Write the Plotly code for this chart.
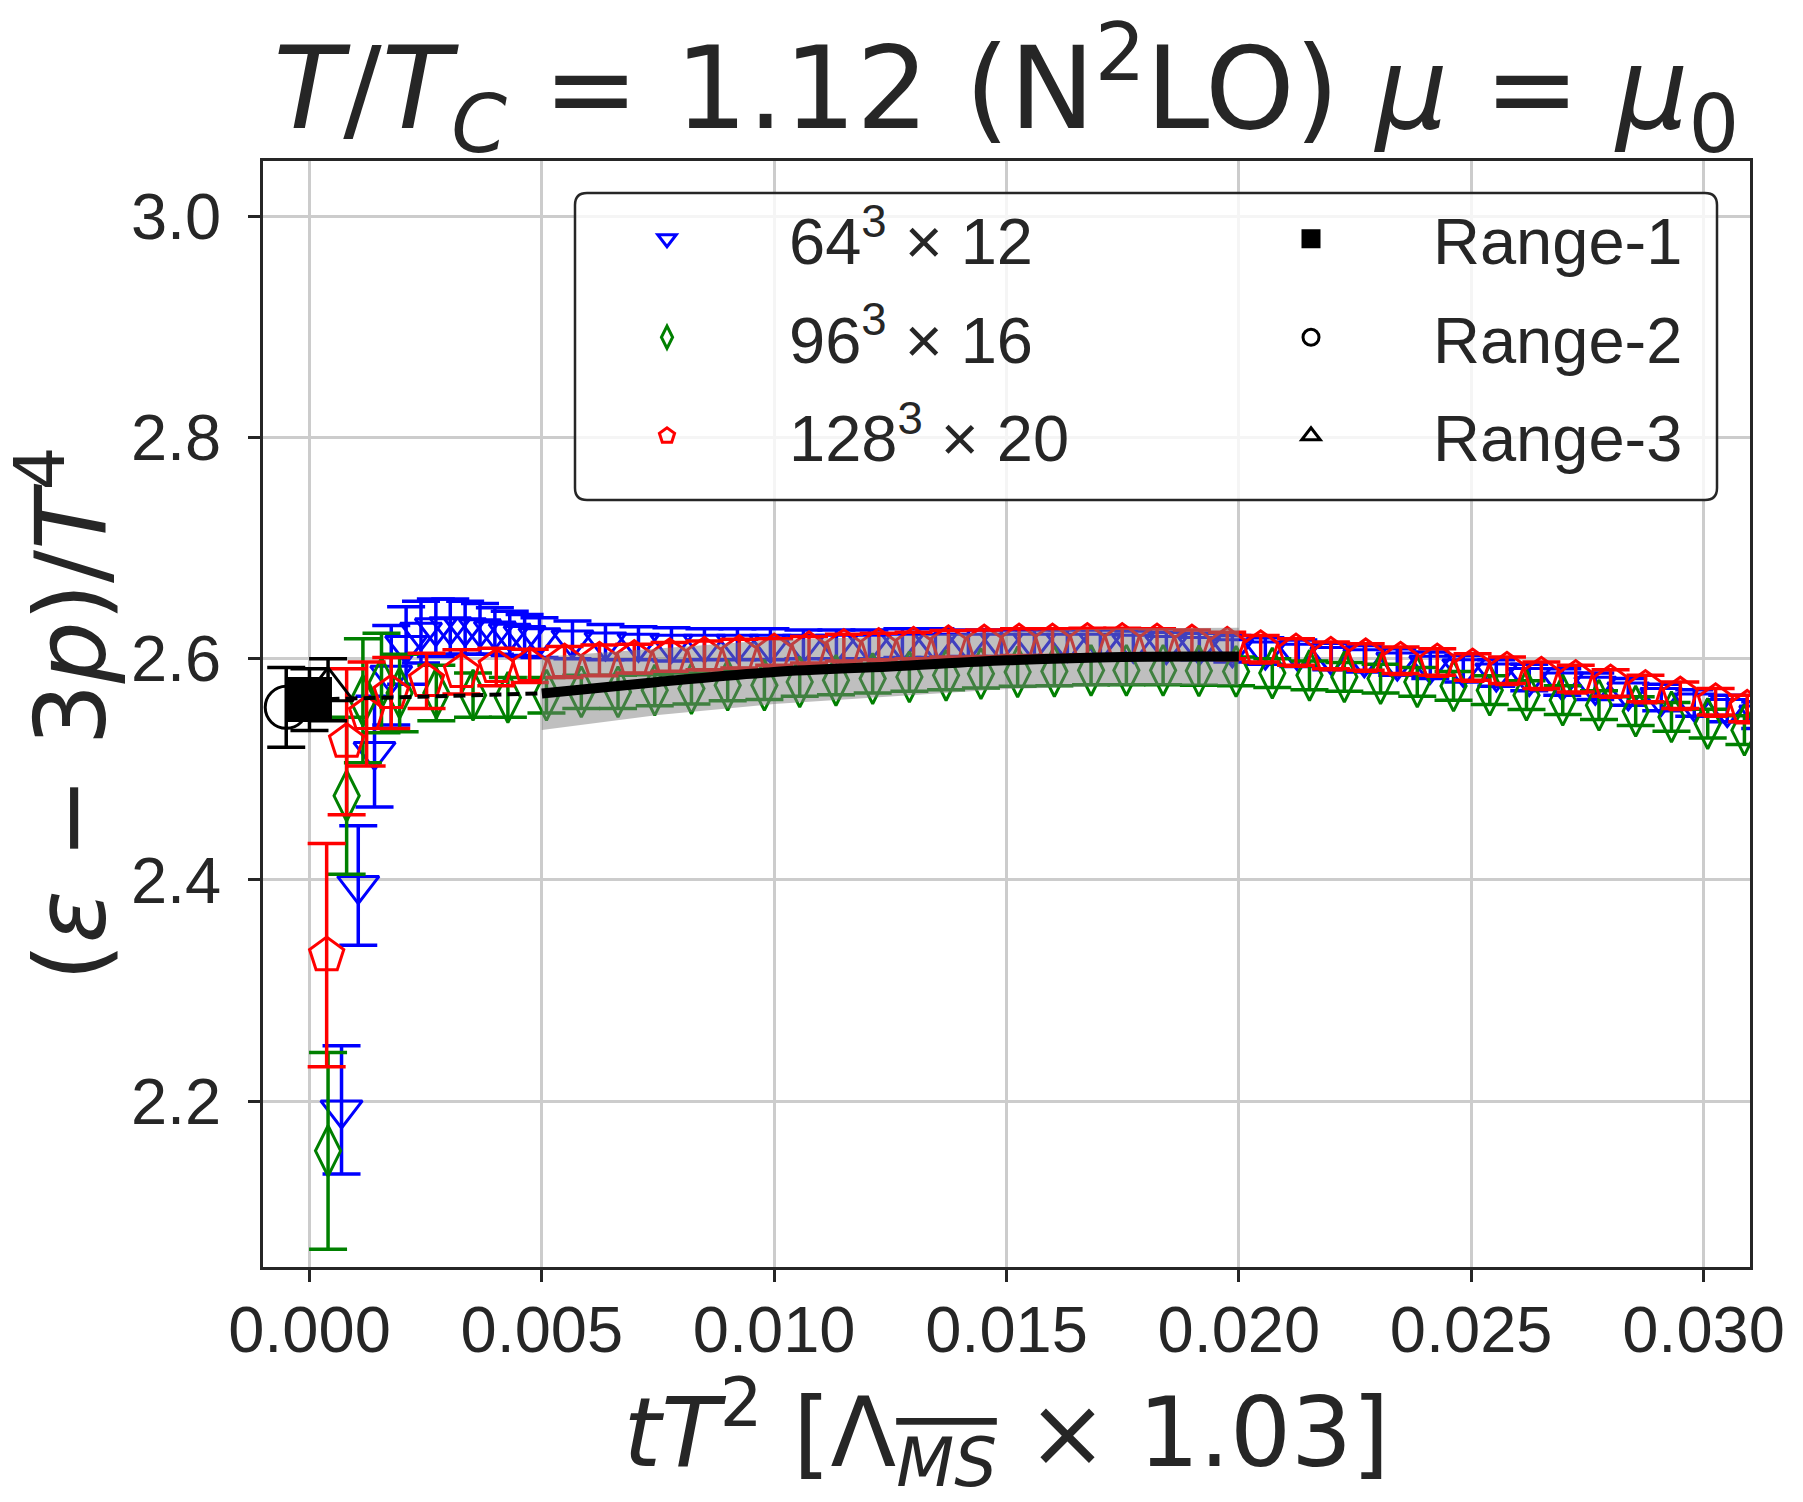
import plotly.graph_objects as go

# ---------------- data ----------------
# 64^3 x 12 (blue)
blue_x = [0.00069, 0.00105, 0.00140, 0.00176, 0.00208, 0.00240, 0.00272, 0.00303, 0.00335, 0.00367,
          0.00399, 0.00431, 0.00463, 0.00495, 0.00566, 0.00637, 0.00708, 0.00779, 0.00850, 0.00921,
          0.00992, 0.01063, 0.01134, 0.01205, 0.01276, 0.01347, 0.01418, 0.01489, 0.01560, 0.01631,
          0.01702, 0.01773, 0.01844, 0.01915, 0.01986, 0.02057, 0.02128, 0.02199, 0.02270, 0.02341,
          0.02412, 0.02483, 0.02554, 0.02625, 0.02696, 0.02767, 0.02838, 0.02909, 0.02980, 0.03051,
          0.03122]
blue_y = [2.192, 2.395, 2.516, 2.585, 2.612, 2.624, 2.628, 2.629, 2.628, 2.627,
          2.625, 2.623, 2.621, 2.619, 2.617, 2.615, 2.614, 2.613, 2.613, 2.613,
          2.613, 2.613, 2.613, 2.613, 2.614, 2.614, 2.614, 2.614, 2.614, 2.614,
          2.614, 2.613, 2.612, 2.611, 2.609, 2.607, 2.605, 2.602, 2.600, 2.597,
          2.594, 2.591, 2.587, 2.583, 2.579, 2.575, 2.570, 2.565, 2.560, 2.555,
          2.549]
blue_err = [0.058, 0.054, 0.050, 0.045, 0.035, 0.028, 0.026, 0.025, 0.024, 0.023,
            0.021, 0.020, 0.019, 0.018, 0.017, 0.016, 0.015, 0.015, 0.014, 0.014,
            0.014, 0.013, 0.013, 0.013, 0.013, 0.013, 0.012, 0.012, 0.012, 0.012,
            0.012, 0.012, 0.012, 0.012, 0.012, 0.012, 0.012, 0.012, 0.012, 0.012,
            0.012, 0.012, 0.012, 0.012, 0.012, 0.012, 0.012, 0.012, 0.012, 0.012,
            0.012]

# 96^3 x 16 (green)
green_x = [0.00040, 0.00080, 0.00115, 0.00155, 0.00194, 0.00273, 0.00352, 0.00427, 0.00510, 0.00585,
           0.00664, 0.00743, 0.00822, 0.00900, 0.00979, 0.01055, 0.01133, 0.01212, 0.01291, 0.01370,
           0.01445, 0.01524, 0.01603, 0.01682, 0.01758, 0.01837, 0.01914, 0.01994, 0.02072, 0.02152,
           0.02227, 0.02305, 0.02384, 0.02462, 0.02540, 0.02619, 0.02697, 0.02775, 0.02854, 0.02931,
           0.03009, 0.03088]
green_y = [2.155, 2.476, 2.562, 2.578, 2.569, 2.569, 2.567, 2.565, 2.567, 2.570,
           2.570, 2.5715, 2.573, 2.576, 2.576, 2.579, 2.5805, 2.582, 2.5835, 2.585,
           2.5865, 2.588, 2.5886, 2.5895, 2.5895, 2.5895, 2.589, 2.5885, 2.587, 2.585,
           2.5835, 2.582, 2.579, 2.5754, 2.5715, 2.567, 2.5625, 2.558, 2.5525, 2.5474,
           2.5414, 2.5354]
green_err = [0.089, 0.071, 0.056, 0.045, 0.035, 0.025, 0.020, 0.018, 0.016, 0.015,
             0.015, 0.014, 0.014, 0.014, 0.013, 0.013, 0.013, 0.013, 0.013, 0.013,
             0.013, 0.013, 0.013, 0.013, 0.013, 0.013, 0.013, 0.013, 0.013, 0.013,
             0.013, 0.013, 0.013, 0.013, 0.013, 0.013, 0.013, 0.013, 0.013, 0.013,
             0.013, 0.013]

# 128^3 x 20 (red)
red_x = [0.00037, 0.00080, 0.00123, 0.00176, 0.00252, 0.00327, 0.00402, 0.00474, 0.00549, 0.00624,
         0.00699, 0.00775, 0.00850, 0.00925, 0.01000, 0.01075, 0.01150, 0.01225, 0.01300, 0.01375,
         0.01452, 0.01527, 0.01599, 0.01674, 0.01749, 0.01824, 0.01899, 0.01975, 0.02047, 0.02123,
         0.02198, 0.02273, 0.02348, 0.02427, 0.02503, 0.02577, 0.02651, 0.02725, 0.02800, 0.02875,
         0.02950, 0.03026, 0.03094]
red_y = [2.332, 2.525, 2.550, 2.569, 2.580, 2.588, 2.5925, 2.5935, 2.597, 2.5985,
         2.600, 2.6016, 2.603, 2.6045, 2.606, 2.608, 2.610, 2.611, 2.612, 2.6135,
         2.614, 2.615, 2.615, 2.6155, 2.6155, 2.615, 2.614, 2.612, 2.609, 2.606,
         2.603, 2.6016, 2.5986, 2.597, 2.5925, 2.5895, 2.585, 2.582, 2.578, 2.573,
         2.567, 2.561, 2.555]
red_err = [0.101, 0.066, 0.047, 0.032, 0.025, 0.020, 0.017, 0.015, 0.014, 0.014,
           0.013, 0.013, 0.013, 0.013, 0.012, 0.012, 0.012, 0.012, 0.012, 0.012,
           0.012, 0.012, 0.012, 0.012, 0.012, 0.012, 0.012, 0.012, 0.012, 0.012,
           0.012, 0.012, 0.012, 0.012, 0.012, 0.012, 0.012, 0.012, 0.012, 0.012,
           0.012, 0.012, 0.012]

# continuum fit (solid) with error band, and its extrapolation (dashed)
fit_x = [0.0050, 0.0075, 0.0100, 0.0125, 0.0150, 0.0175, 0.0200]
fit_y = [2.5686, 2.579, 2.588, 2.593, 2.5985, 2.6016, 2.602]
fit_err = [0.033, 0.030, 0.029, 0.027, 0.026, 0.026, 0.026]
extrap_x = [0.0000, 0.0025, 0.0050]
extrap_y = [2.563, 2.5655, 2.5686]

# continuum-extrapolated values for three fit ranges
range_names = ["Range-1", "Range-2", "Range-3"]
range_x = [0.0000, -0.0005, 0.0004]
range_y = [2.563, 2.556, 2.572]
range_err = [0.028, 0.036, 0.028]

series_names = ["64<sup>3</sup> × 12", "96<sup>3</sup> × 16", "128<sup>3</sup> × 20"]

x_ticks = [0.000, 0.005, 0.010, 0.015, 0.020, 0.025, 0.030]
y_ticks = [2.2, 2.4, 2.6, 2.8, 3.0]

# ---------------- style ----------------
INK = "#262626"
TICK_FONT = dict(family="Liberation Sans, Arial, sans-serif", size=65, color=INK)
MATH_FONT = "DejaVu Sans, sans-serif"
CAP = 19
EW = 3.5
MS = 36

fig = go.Figure()


def data_trace(x, y, e, name, color, symbol, rank):
    return go.Scatter(
        x=x, y=y, mode="markers", name=name,
        marker=dict(symbol=symbol, size=MS, color=color, line=dict(width=3, color=color)),
        error_y=dict(type="data", array=e, visible=True, color=color, thickness=EW, width=CAP),
        legend="legend", legendgroup=name, legendrank=rank, cliponaxis=True,
    )


fig.add_trace(data_trace(blue_x, blue_y, blue_err, series_names[0], "#0000ff", "triangle-down-open", 1))
fig.add_trace(data_trace(green_x, green_y, green_err, series_names[1], "#008000", "diamond-tall-open", 2))
fig.add_trace(data_trace(red_x, red_y, red_err, series_names[2], "#ff0000", "pentagon-open", 3))

# error band (drawn over the data, semi-transparent)
band_upper = [v + e for v, e in zip(fit_y, fit_err)]
band_lower = [v - e for v, e in zip(fit_y, fit_err)]
fig.add_trace(go.Scatter(
    x=fit_x + fit_x[::-1], y=band_upper + band_lower[::-1],
    fill="toself", fillcolor="rgba(128,128,128,0.5)", line=dict(width=0),
    mode="lines", showlegend=False, hoverinfo="skip",
))
fig.add_trace(go.Scatter(
    x=fit_x, y=fit_y, mode="lines", line=dict(color="black", width=10, shape="spline"),
    showlegend=False,
))
fig.add_trace(go.Scatter(
    x=extrap_x, y=extrap_y, mode="lines", line=dict(color="black", width=4, dash="12px,6px"),
    showlegend=False,
))

range_symbols = ["square", "circle-open", "triangle-up-open"]
range_sizes = [42, 42, 44]
for i in range(3):
    fig.add_trace(go.Scatter(
        x=[range_x[i]], y=[range_y[i]], mode="markers", name=range_names[i],
        marker=dict(symbol=range_symbols[i], size=range_sizes[i], color="black",
                    line=dict(width=3, color="black")),
        error_y=dict(type="data", array=[range_err[i]], visible=True, color="black",
                     thickness=EW, width=CAP),
        legend="legend2", legendgroup=range_names[i], legendrank=i + 1,
    ))

# ---------------- layout ----------------
W, H = 1803, 1502
L, R, T, B = 263, 53, 161, 235
pw, ph = W - L - R, H - T - B


def px_to_paper_x(px):
    return (px - L) / pw


def px_to_paper_y(py):
    return (H - B - py) / ph


# rounded legend frame
bx0, bx1 = px_to_paper_x(575), px_to_paper_x(1717)
by1, by0 = px_to_paper_y(193), px_to_paper_y(500)
rx, ry = 12 / pw, 12 / ph
frame_path = (
    f"M {bx0 + rx},{by1} L {bx1 - rx},{by1} Q {bx1},{by1} {bx1},{by1 - ry} "
    f"L {bx1},{by0 + ry} Q {bx1},{by0} {bx1 - rx},{by0} "
    f"L {bx0 + rx},{by0} Q {bx0},{by0} {bx0},{by0 + ry} "
    f"L {bx0},{by1 - ry} Q {bx0},{by1} {bx0 + rx},{by1} Z"
)

legend_common = dict(
    orientation="v", xanchor="left", yanchor="top",
    bgcolor="rgba(0,0,0,0)", borderwidth=0,
    font=dict(family="Liberation Sans, Arial, sans-serif", size=65, color=INK),
    itemwidth=234, tracegroupgap=11, traceorder="grouped",
)

axis_common = dict(
    showline=True, linecolor=INK, linewidth=2.5, mirror=True,
    showgrid=True, gridcolor="#cccccc", gridwidth=2.5, zeroline=False,
    ticks="outside", ticklen=12, tickwidth=2.5, tickcolor=INK,
    tickfont=TICK_FONT,
)

fig.update_layout(
    width=W, height=H,
    margin=dict(l=L, r=R, t=T, b=B, autoexpand=False),
    paper_bgcolor="white", plot_bgcolor="white",
    title=dict(
        text="<i>T</i>/<i>T</i><sub><i>C</i></sub> = 1.12 (N<sup>2</sup>LO) <i>μ</i> = <i>μ</i><sub>0</sub>",
        font=dict(family=MATH_FONT, size=114, color=INK),
        x=0.5, xref="paper", xanchor="center",
        y=1 - 88 / H, yref="container", yanchor="middle",
    ),
    xaxis=dict(
        **axis_common,
        range=[-0.001, 0.031], tickvals=x_ticks, tickformat=".3f",
        ticklabelstandoff=-8,
        title=dict(
            text="<i>tT</i><sup>2</sup> [Λ<sub><i><span style='text-decoration:overline'>MS</span></i></sub> × 1.03]",
            font=dict(family=MATH_FONT, size=96, color=INK), standoff=18,
        ),
    ),
    yaxis=dict(
        **axis_common,
        range=[2.05, 3.05], tickvals=y_ticks, tickformat=".1f",
        ticklabelstandoff=14,
        title=dict(
            text="(<i>ε</i> − 3<i>p</i>)/<i>T</i><sup>4</sup>",
            font=dict(family=MATH_FONT, size=98, color=INK), standoff=10,
        ),
    ),
    legend=dict(**legend_common, x=px_to_paper_x(545), y=px_to_paper_y(190)),
    legend2=dict(**legend_common, x=px_to_paper_x(1189), y=px_to_paper_y(190)),
    shapes=[dict(type="path", path=frame_path, xref="paper", yref="paper",
                 fillcolor="rgba(255,255,255,0.8)", line=dict(color=INK, width=2.5),
                 layer="above")],
    showlegend=True,
)

fig.write_html("out.html")
